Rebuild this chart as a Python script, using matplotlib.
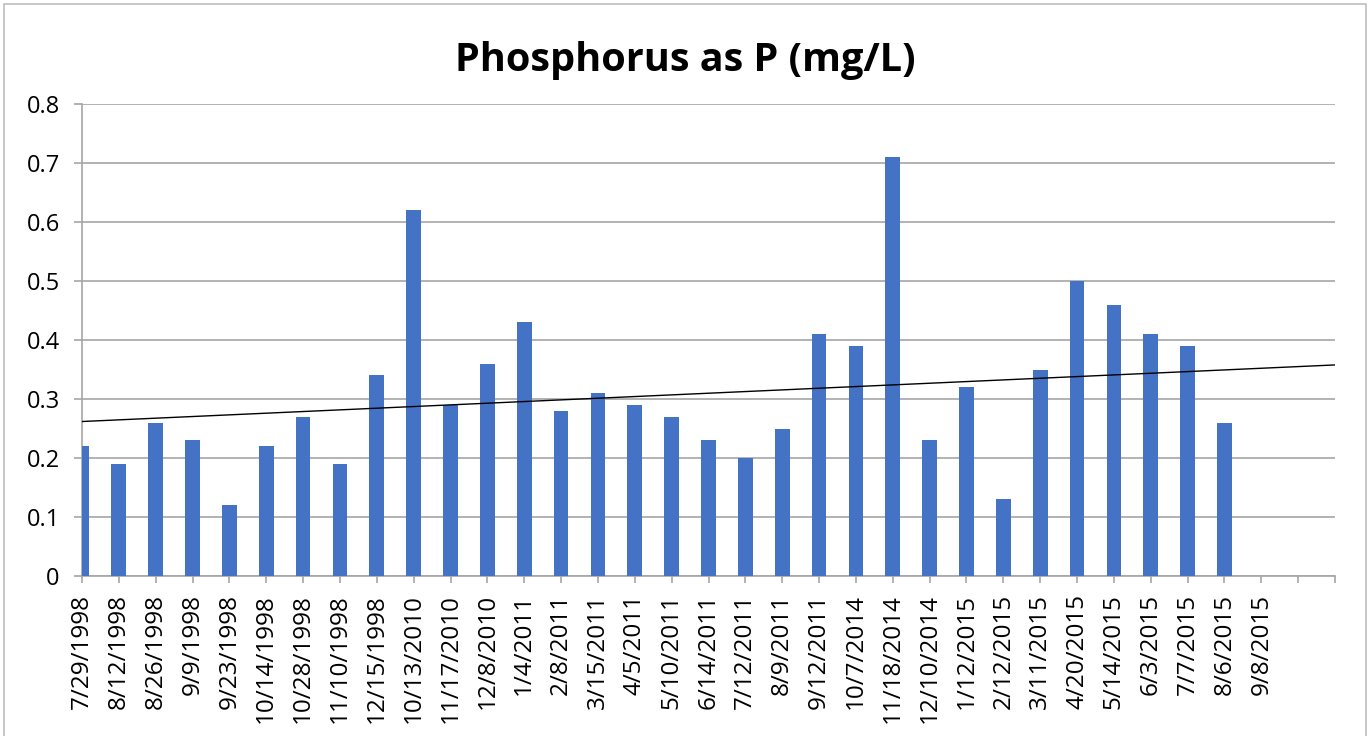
import numpy as np
import matplotlib
matplotlib.use("Agg")
import matplotlib.pyplot as plt
from matplotlib.patches import Rectangle

dates = ["7/29/1998", "8/12/1998", "8/26/1998", "9/9/1998", "9/23/1998",
         "10/14/1998", "10/28/1998", "11/10/1998", "12/15/1998", "10/13/2010",
         "11/17/2010", "12/8/2010", "1/4/2011", "2/8/2011", "3/15/2011",
         "4/5/2011", "5/10/2011", "6/14/2011", "7/12/2011", "8/9/2011",
         "9/12/2011", "10/7/2014", "11/18/2014", "12/10/2014", "1/12/2015",
         "2/12/2015", "3/11/2015", "4/20/2015", "5/14/2015", "6/3/2015",
         "7/7/2015", "8/6/2015", "9/8/2015"]
phosphorus = [0.22, 0.19, 0.26, 0.23, 0.12, 0.22, 0.27, 0.19, 0.34, 0.62,
              0.29, 0.36, 0.43, 0.28, 0.31, 0.29, 0.27, 0.23, 0.20, 0.25,
              0.41, 0.39, 0.71, 0.23, 0.32, 0.13, 0.35, 0.50, 0.46, 0.41,
              0.39, 0.26, np.nan]

plt.rcParams["font.family"] = ["Open Sans", "DejaVu Sans"]

fig = plt.figure(figsize=(13.7, 7.36), dpi=100)
ax = fig.add_axes([82 / 1370, 1 - 576 / 736, (1335 - 82) / 1370, (576 - 104) / 736])

x = np.arange(len(dates))
y = np.asarray(phosphorus, dtype=float)
ax.bar(x, y, width=0.4, color="#4472C4", zorder=3)

# linear trendline; the empty last cell counts as zero (as the spreadsheet did)
slope, intercept = np.polyfit(x, np.nan_to_num(y), 1)
n_pos = len(dates) + 1
xt = np.array([0, n_pos])
ax.plot(xt, slope * xt + intercept, color="black", linewidth=1.0, zorder=4)

ax.set_xlim(0, n_pos)
ax.set_ylim(0, 0.8)
ax.set_yticks(np.arange(0, 0.81, 0.1))
ax.set_yticklabels(["0"] + [f"{v:.1f}" for v in np.arange(0.1, 0.81, 0.1)])
ax.set_xticks(np.arange(0, n_pos + 1))
ax.set_xticklabels(dates + ["", ""], rotation=90, fontsize=17.5)
ax.tick_params(axis="y", labelsize=17, length=6, color="#A6A6A6", width=1.2, pad=10)
ax.tick_params(axis="x", length=5, color="#A6A6A6", width=1.2, pad=8)
ax.grid(True, axis="y", color="#A6A6A6", linewidth=1.2, zorder=0)

for s in ["top", "right"]:
    ax.spines[s].set_visible(False)
for s in ["left", "bottom"]:
    ax.spines[s].set_color("#A6A6A6")
    ax.spines[s].set_linewidth(1.2)

fig.text(0.5, 1 - 60 / 736, "Phosphorus as P (mg/L)", ha="center", va="center",
         fontsize=28.5, fontweight="bold")

fig.patches.append(Rectangle((4 / 1370, -0.01), 1362 / 1370, 1 - 4 / 736 + 0.01,
                             transform=fig.transFigure, fill=False,
                             edgecolor="#BFBFBF", linewidth=1.2))

fig.savefig("out.png", dpi=100)
